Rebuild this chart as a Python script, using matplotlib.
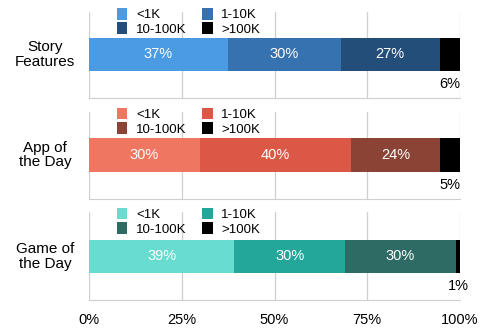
import matplotlib
matplotlib.use("Agg")
import matplotlib.pyplot as plt
import numpy as np

plt.rcParams['font.family'] = ['Liberation Sans', 'DejaVu Sans']

categories = ["Story\nFeatures", "App of\nthe Day", "Game of\nthe Day"]
series = ["<1K", "1-10K", "10-100K", ">100K"]
values = [
    [37.4, 30.4, 26.8, 5.4],
    [29.9, 40.7, 24.0, 5.4],
    [39.2, 29.8, 29.9, 1.1],
]
labels = [
    ["37%", "30%", "27%", "6%"],
    ["30%", "40%", "24%", "5%"],
    ["39%", "30%", "30%", "1%"],
]
colors = [
    ["#4a9be2", "#3672b0", "#244e7a", "#000000"],
    ["#ef7661", "#db5846", "#8b4335", "#000000"],
    ["#68dccf", "#22a79a", "#2f6b65", "#000000"],
]
ticks = [0, 25, 50, 75, 100]
tick_labels = ["0%", "25%", "50%", "75%", "100%"]

W, H = 480, 330
fig = plt.figure(figsize=(4.8, 3.3), dpi=100)

# panel pixel extents (top, bottom) and bar (top, bottom)
panels = [(12, 98, 38, 71), (112, 199, 138, 172), (212, 300, 240, 273)]
x0, x1 = 89, 460

for i, (top, bot, btop, bbot) in enumerate(panels):
    ax = fig.add_axes([x0 / W, 1 - bot / H, (x1 - x0) / W, (bot - top) / H])
    ax.set_xlim(0, 100)
    ax.set_ylim(0, 1)
    ph = bot - top
    yc = (bot - (btop + bbot) / 2) / ph
    bh = (bbot - btop) / ph

    left = 0
    handles = []
    for j, v in enumerate(values[i]):
        b = ax.barh(yc, v, left=left, height=bh, color=colors[i][j],
                    label=series[j], zorder=3)
        handles.append(b)
        cx = left + v / 2
        if j < 3:
            ax.text(cx, yc, labels[i][j], color="white", ha="center",
                    va="center", fontsize=10.5, zorder=4)
        else:
            ax.text(cx, (bot - (bbot + 13)) / ph, labels[i][j], color="black",
                    ha="center", va="center", fontsize=10.5, zorder=4)
        left += v

    for t in ticks:
        ax.axvline(t, color="#cfcfcf", lw=0.9, zorder=1)

    order = [0, 2, 1, 3]
    ax.legend([handles[k] for k in order], [series[k] for k in order],
              ncol=2, loc="upper left", bbox_to_anchor=(0.075, 1.05),
              frameon=False, fontsize=9.5, handlelength=0.8, handleheight=1.0,
              handletextpad=0.65, columnspacing=1.2, labelspacing=0.08,
              borderpad=0, borderaxespad=0)

    for s in ["top", "left", "right"]:
        ax.spines[s].set_visible(False)
    ax.spines["bottom"].set_color("#cfcfcf")
    ax.set_yticks([])
    ax.set_xticks(ticks)
    ax.tick_params(axis="x", length=0, labelsize=10.5, pad=9)
    if i < 2:
        ax.set_xticklabels([])
    else:
        ax.set_xticklabels(tick_labels)

    fig.text(45 / W, 1 - ((btop + bbot) / 2) / H, categories[i],
             ha="center", va="center", fontsize=11, linespacing=1.05)

fig.savefig("out.png", dpi=100, facecolor="white")
